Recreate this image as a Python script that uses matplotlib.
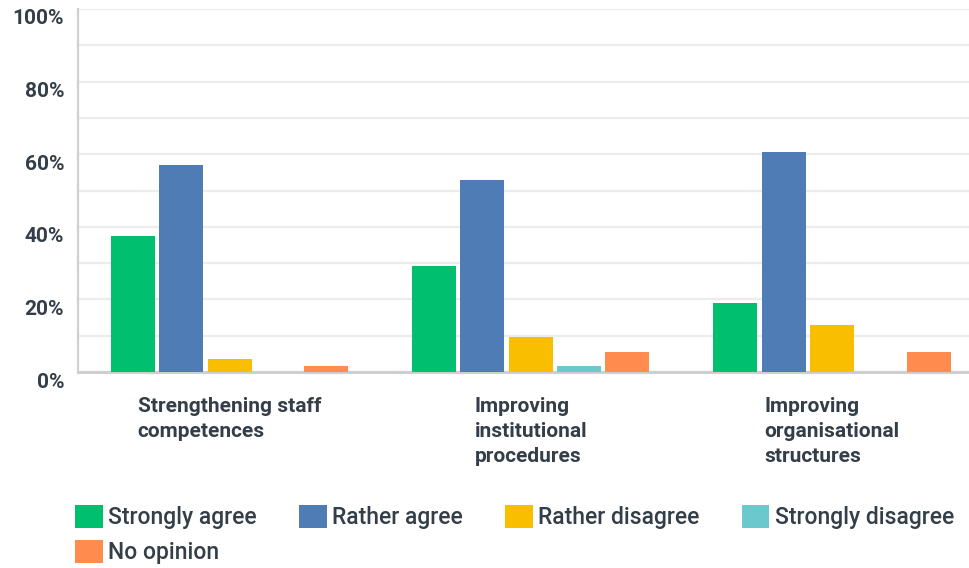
import numpy as np
import matplotlib.pyplot as plt
from matplotlib import transforms
from matplotlib.patches import Patch

# survey answers, percent of respondents
categories = ["Strengthening staff\ncompetences",
              "Improving\ninstitutional\nprocedures",
              "Improving\norganisational\nstructures"]
answers = ["Strongly agree", "Rather agree", "Rather disagree",
           "Strongly disagree", "No opinion"]
strongly_agree = [37.5, 29.3, 19.0]
rather_agree = [56.9, 52.8, 60.6]
rather_disagree = [3.6, 9.7, 12.9]
strongly_disagree = [0.0, 1.7, 0.0]
no_opinion = [1.7, 5.6, 5.6]
yticks = [0, 20, 40, 60, 80, 100]

series = [strongly_agree, rather_agree, rather_disagree, strongly_disagree, no_opinion]
colors = ["#00bf6f", "#507cb6", "#f9be00", "#6bc8cd", "#ff8b4f"]
txt = "#333e48"

plt.rcParams['font.family'] = ['Roboto', 'DejaVu Sans']

fig = plt.figure(figsize=(9.69, 5.68), dpi=100)
W, H = 969, 568
ax = fig.add_axes([78 / W, (H - 372) / H, (983.5 - 78) / W, 363 / H])

x = np.arange(len(categories))
slot = 48.3 / 301.25
bw = 44 / 301.25
for i, vals in enumerate(series):
    ax.bar(x + (i - 2) * slot, vals, width=bw, color=colors[i], zorder=3)

ax.set_xlim(-0.503, 2.503)
ax.set_ylim(0, 100)
ax.set_yticks(yticks)
ax.set_yticklabels([f"{v}%" for v in yticks], fontsize=15, fontweight='bold', color=txt)
ax.set_yticks(np.arange(10, 100, 10), minor=True)
ax.tick_params(axis='y', which='both', length=0, pad=10)
ax.set_xticks([])
ax.grid(axis='y', which='both', color='#ececec', linewidth=1.6, zorder=0)
ax.set_axisbelow(True)

# percent labels sit a little below their grid lines
off = transforms.ScaledTranslation(0, -8 / 100, fig.dpi_scale_trans)
for lab in ax.get_yticklabels():
    lab.set_transform(lab.get_transform() + off)

for s in ["top", "right"]:
    ax.spines[s].set_visible(False)
ax.spines["left"].set_color("#d0d0d0")
ax.spines["left"].set_linewidth(1.6)
ax.spines["bottom"].set_color("#cfcfcf")
ax.spines["bottom"].set_linewidth(2.2)

for xi, cat in zip(x, categories):
    ax.text(xi, -0.068, cat, transform=ax.get_xaxis_transform(), ha='center',
            va='top', multialignment='left', fontsize=15, fontweight='bold',
            color=txt, linespacing=1.4)

# legend filled column by column, so reorder to read row by row
order = [0, 4, 1, 2, 3]
handles = [Patch(facecolor=colors[i], edgecolor='none') for i in order]
labels = [answers[i] for i in order]
fig.legend(handles, labels, loc='upper left', bbox_to_anchor=(75 / W, 1 - 505 / H),
           ncol=4, frameon=False, labelcolor=txt,
           handlelength=1.2, handleheight=1.2, handletextpad=0.25,
           columnspacing=1.84, labelspacing=0.45, borderaxespad=0, borderpad=0,
           prop={'size': 16.5, 'weight': 'medium'})

fig.savefig("out.png", dpi=100)
